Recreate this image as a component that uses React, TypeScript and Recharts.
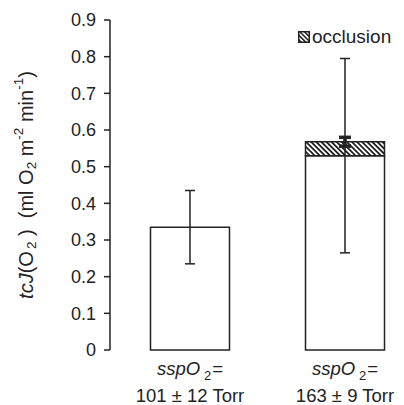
import React from 'react';
import { BarChart, Bar, XAxis, YAxis, ErrorBar, Legend, Label } from 'recharts';

const categories = ['101 ± 12 Torr', '163 ± 9 Torr'];
const baseValues = [0.335, 0.53];
const baseErrors = [0.1, 0.265];
const occlusionValues = [0, 0.038];
const occlusionErrors: (number | undefined)[] = [undefined, 0.012];
const yTicks = [0, 0.1, 0.2, 0.3, 0.4, 0.5, 0.6, 0.7, 0.8, 0.9];
const yTickLabels = ['0', '0.1', '0.2', '0.3', '0.4', '0.5', '0.6', '0.7', '0.8', '0.9'];

const data = categories.map((c, i) => ({
  name: c,
  base: baseValues[i],
  baseErr: baseErrors[i],
  occlusion: occlusionValues[i],
  occErr: occlusionErrors[i],
}));

const FONT = '"Liberation Sans", Arial, sans-serif';
const INK = '#222';

const XTick = (props: any) => {
  const { x, y, payload } = props;
  return (
    <g fontFamily={FONT} fill={INK}>
      <text x={x} y={y + 17} textAnchor="middle" fontSize={18.5}>
        <tspan fontStyle="italic">sspO</tspan>
        <tspan dx={4} dy={5} fontSize={13}>2</tspan>
        <tspan dx={1} dy={-5}>=</tspan>
      </text>
      <text x={x} y={y + 43.5} textAnchor="middle" fontSize={18.5}>
        {payload.value}
      </text>
    </g>
  );
};

const YLabel = (props: any) => {
  const { viewBox } = props;
  const cx = 26;
  const cy = viewBox.y + viewBox.height / 2;
  return (
    <text
      x={cx}
      y={cy}
      transform={`rotate(-90, ${cx}, ${cy})`}
      textAnchor="middle"
      dominantBaseline="central"
      fontFamily={FONT}
      fontSize={20}
      fill={INK}
    >
      <tspan fontStyle="italic">tcJ</tspan>
      <tspan>(O</tspan>
      <tspan dx={2} dy={5} fontSize={13.5}>2</tspan>
      <tspan dy={-5}>{'\u00a0)\u00a0\u00a0(ml O'}</tspan>
      <tspan dy={5} fontSize={13.5}>2</tspan>
      <tspan dy={-5}>{'\u00a0m'}</tspan>
      <tspan dy={-8} fontSize={13.5}>-2</tspan>
      <tspan dy={8}>{'\u00a0min'}</tspan>
      <tspan dy={-8} fontSize={13.5}>-1</tspan>
      <tspan dy={8}>)</tspan>
    </text>
  );
};

const LegendContent = () => (
  <div style={{ display: 'flex', alignItems: 'center', fontFamily: FONT, fontSize: 19, color: INK, whiteSpace: 'nowrap' }}>
    <svg width={12} height={12} style={{ marginRight: 2 }}>
      <defs>
        <pattern id="hatchLegend" patternUnits="userSpaceOnUse" width={3.2} height={3.2} patternTransform="rotate(-45)">
          <rect x={0} y={0} width={1.5} height={3.2} fill={INK} />
        </pattern>
      </defs>
      <rect x={0.75} y={0.75} width={10.5} height={10.5} fill="url(#hatchLegend)" stroke={INK} strokeWidth={1.5} />
    </svg>
    <span>occlusion</span>
  </div>
);

export default function App() {
  return (
    <div style={{ position: 'absolute', left: 0, top: 0, width: 404, height: 405 }}>
      <BarChart width={404} height={405} data={data} margin={{ top: 20, right: 0, bottom: 0, left: 0 }} barSize={79}>
        <defs>
          <pattern id="hatch" patternUnits="userSpaceOnUse" width={3.6} height={3.6} patternTransform="rotate(-45)">
            <rect x={0} y={0} width={1.8} height={3.6} fill={INK} />
          </pattern>
        </defs>
        <XAxis
          dataKey="name"
          axisLine={false}
          tickLine={false}
          height={55}
          interval={0}
          padding={{ left: 2.5, right: -18.5 }}
          tick={<XTick />}
        />
        <YAxis
          width={110}
          domain={[0, 0.9]}
          ticks={yTicks}
          tickFormatter={(v: number) => yTickLabels[yTicks.indexOf(v)] ?? String(v)}
          axisLine={{ stroke: INK, strokeWidth: 1.5 }}
          tickLine={{ stroke: INK, strokeWidth: 1.5 }}
          tickSize={6}
          tickMargin={8}
          tick={{ fill: INK, fontSize: 18, fontFamily: FONT }}
          interval={0}
        >
          <Label content={<YLabel />} />
        </YAxis>
        <Legend
          content={<LegendContent />}
          wrapperStyle={{ position: 'absolute', top: 26, left: 298, width: 'auto', height: 0, overflow: 'visible' }}
        />
        <Bar dataKey="base" stackId="s" fill="#fff" stroke={INK} strokeWidth={1.5} isAnimationActive={false}>
          <ErrorBar dataKey="baseErr" width={5} stroke={INK} strokeWidth={1.5} direction="y" />
        </Bar>
        <Bar dataKey="occlusion" stackId="s" fill="url(#hatch)" stroke={INK} strokeWidth={1.5} isAnimationActive={false}>
          <ErrorBar dataKey="occErr" width={6} stroke={INK} strokeWidth={3.5} direction="y" />
        </Bar>
      </BarChart>
    </div>
  );
}
